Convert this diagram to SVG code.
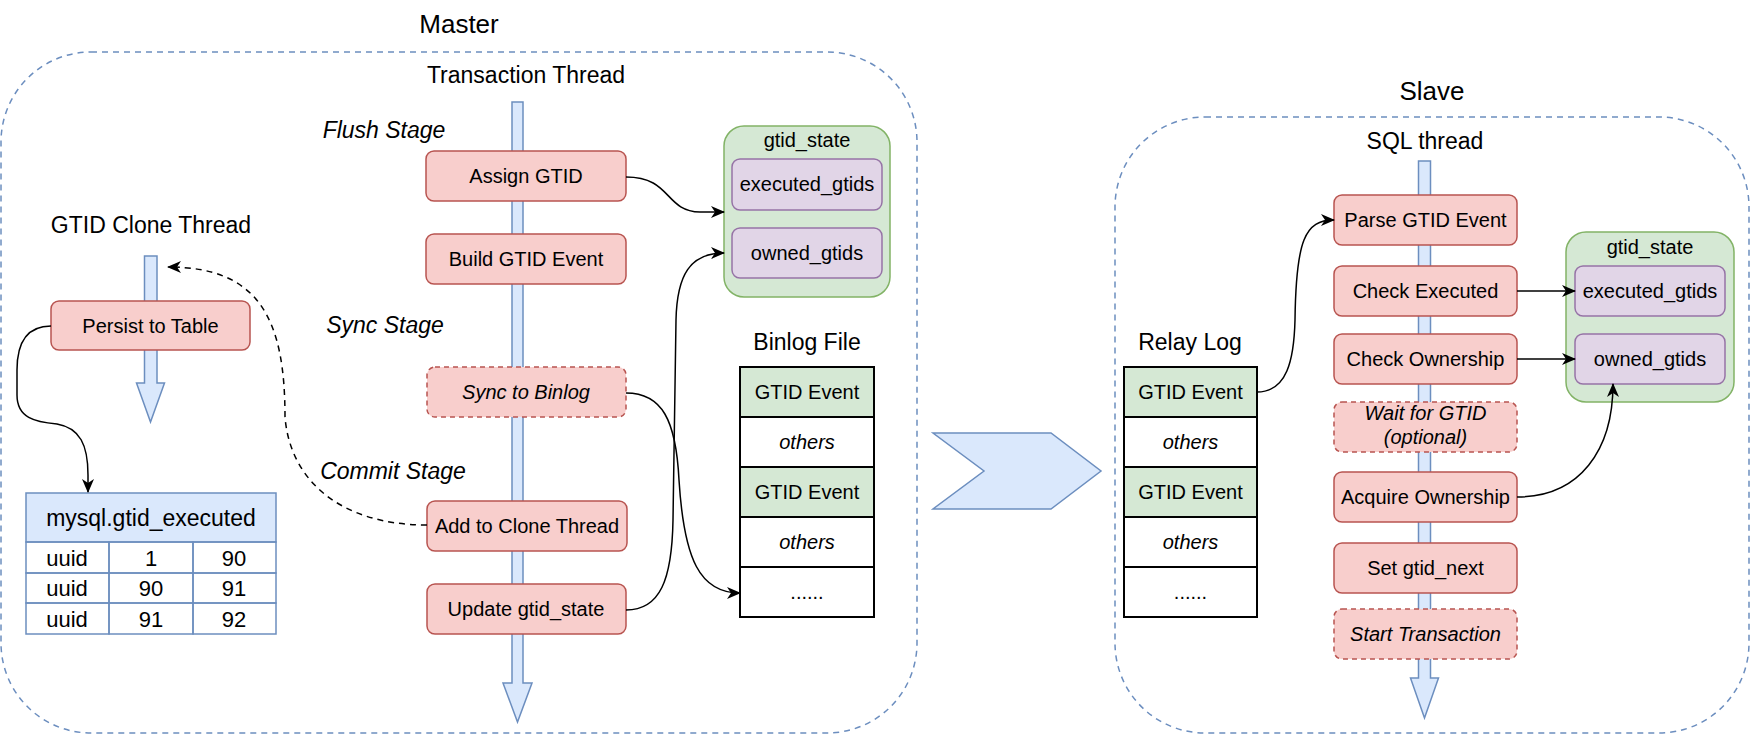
<svg xmlns="http://www.w3.org/2000/svg" width="1751" height="735" viewBox="0 0 1751 735">
<style>
text{font-family:"Liberation Sans",Arial,Helvetica,sans-serif;fill:#000}
.t20{font-size:20px;text-anchor:middle}
.t22{font-size:22px;text-anchor:middle}
.t23{font-size:23px;text-anchor:middle}
.t26{font-size:26px;text-anchor:middle}
.it{font-style:italic}
.cont{fill:none;stroke:#6c8ebf;stroke-width:1.5;stroke-dasharray:6 5}
.red{fill:#f8cecc;stroke:#b85450;stroke-width:1.5}
.redd{fill:#f8cecc;stroke:#b85450;stroke-width:1.5;stroke-dasharray:5 4}
.blue{fill:#dae8fc;stroke:#6c8ebf;stroke-width:1.5}
.green{fill:#d5e8d4;stroke:#82b366;stroke-width:1.5}
.purple{fill:#e1d5e7;stroke:#9673a6;stroke-width:1.5}
.cell{fill:#fff;stroke:#000;stroke-width:2}
.cellg{fill:#d5e8d4;stroke:#000;stroke-width:2}
.tcell{fill:none;stroke:#6c8ebf;stroke-width:1.5}
.edge{fill:none;stroke:#000;stroke-width:1.5;marker-end:url(#arr)}
.edged{fill:none;stroke:#000;stroke-width:1.5;stroke-dasharray:6 5;marker-end:url(#arr)}
</style>
<defs>
<marker id="arr" markerUnits="userSpaceOnUse" markerWidth="14" markerHeight="12" viewBox="0 0 14 12" refX="13" refY="6" orient="auto">
<path d="M0,0 L14,6 L0,12 L4,6 Z" fill="#000"/>
</marker>
</defs>

<g id="master">
<text class="t26" x="459" y="33">Master</text>
<rect class="cont" x="1" y="52" width="916" height="681" rx="90" ry="90"/>
</g>

<g id="slave">
<text class="t26" x="1432" y="100">Slave</text>
<rect class="cont" x="1115" y="117" width="634" height="616" rx="90" ry="90"/>
</g>

<g id="transaction-thread">
<text class="t23" x="526" y="83">Transaction Thread</text>
<polygon class="blue" points="512,102 523,102 523,683 532,683 517.5,722 503,683 512,683"/>
</g>

<g id="clone-thread">
<text class="t23" x="151" y="233">GTID Clone Thread</text>
<polygon class="blue" points="144.5,256 157,256 157,383 164.5,383 150.5,422 136.5,383 144.5,383"/>
</g>

<g id="sql-thread">
<text class="t23" x="1425" y="149">SQL thread</text>
<polygon class="blue" points="1418.5,161 1430.5,161 1430.5,678 1438.5,678 1424.5,718 1410.5,678 1418.5,678"/>
</g>

<g id="stages">
<text class="t23 it" x="384" y="138">Flush Stage</text>
<text class="t23 it" x="385" y="333">Sync Stage</text>
<text class="t23 it" x="393" y="479">Commit Stage</text>
</g>

<g id="assign-gtid">
<rect class="red" x="426" y="151" width="200" height="50" rx="8"/>
<text class="t20" x="526" y="183">Assign GTID</text>
</g>
<g id="build-gtid-event">
<rect class="red" x="426" y="234" width="200" height="50" rx="8"/>
<text class="t20" x="526" y="266">Build GTID Event</text>
</g>
<g id="sync-to-binlog">
<rect class="redd" x="427" y="367" width="199" height="50" rx="8"/>
<text class="t20 it" x="526" y="399">Sync to Binlog</text>
</g>
<g id="add-to-clone-thread">
<rect class="red" x="427" y="501" width="200" height="50" rx="8"/>
<text class="t20" x="527" y="533">Add to Clone Thread</text>
</g>
<g id="update-gtid-state">
<rect class="red" x="427" y="584" width="199" height="50" rx="8"/>
<text class="t20" x="526" y="616">Update gtid_state</text>
</g>

<g id="persist-to-table">
<rect class="red" x="51" y="301" width="199" height="49" rx="8"/>
<text class="t20" x="150.5" y="333">Persist to Table</text>
</g>

<g id="mysql-gtid-executed">
<rect class="blue" x="26" y="493" width="250" height="49"/>
<text class="t23" x="151" y="526">mysql.gtid_executed</text>
<rect class="tcell" x="26" y="542" width="83" height="31"/>
<rect class="tcell" x="109" y="542" width="84" height="31"/>
<rect class="tcell" x="193" y="542" width="83" height="31"/>
<rect class="tcell" x="26" y="573" width="83" height="30"/>
<rect class="tcell" x="109" y="573" width="84" height="30"/>
<rect class="tcell" x="193" y="573" width="83" height="30"/>
<rect class="tcell" x="26" y="603" width="83" height="31"/>
<rect class="tcell" x="109" y="603" width="84" height="31"/>
<rect class="tcell" x="193" y="603" width="83" height="31"/>
<text class="t22" x="67" y="566">uuid</text>
<text class="t22" x="151" y="566">1</text>
<text class="t22" x="234" y="566">90</text>
<text class="t22" x="67" y="596">uuid</text>
<text class="t22" x="151" y="596">90</text>
<text class="t22" x="234" y="596">91</text>
<text class="t22" x="67" y="627">uuid</text>
<text class="t22" x="151" y="627">91</text>
<text class="t22" x="234" y="627">92</text>
</g>

<g id="master-gtid-state">
<rect class="green" x="724" y="126" width="166" height="171" rx="20"/>
<text class="t20" x="807" y="147">gtid_state</text>
<rect class="purple" x="732" y="159" width="150" height="51" rx="8"/>
<text class="t20" x="807" y="191">executed_gtids</text>
<rect class="purple" x="732" y="228" width="150" height="50" rx="8"/>
<text class="t20" x="807" y="260">owned_gtids</text>
</g>

<g id="binlog-file">
<text class="t23" x="807" y="350">Binlog File</text>
<rect class="cellg" x="740" y="367" width="134" height="50"/>
<text class="t20" x="807" y="399">GTID Event</text>
<rect class="cell" x="740" y="417" width="134" height="50"/>
<text class="t20 it" x="807" y="449">others</text>
<rect class="cellg" x="740" y="467" width="134" height="50"/>
<text class="t20" x="807" y="499">GTID Event</text>
<rect class="cell" x="740" y="517" width="134" height="50"/>
<text class="t20 it" x="807" y="549">others</text>
<rect class="cell" x="740" y="567" width="134" height="50"/>
<text class="t20" x="807" y="599">......</text>
</g>

<g id="transfer-arrow">
<polygon class="blue" points="933,433 1051,433 1101,471 1051,509 933,509 984,471"/>
</g>

<g id="relay-log">
<text class="t23" x="1190" y="350">Relay Log</text>
<rect class="cellg" x="1124" y="367" width="133" height="50"/>
<text class="t20" x="1190.5" y="399">GTID Event</text>
<rect class="cell" x="1124" y="417" width="133" height="50"/>
<text class="t20 it" x="1190.5" y="449">others</text>
<rect class="cellg" x="1124" y="467" width="133" height="50"/>
<text class="t20" x="1190.5" y="499">GTID Event</text>
<rect class="cell" x="1124" y="517" width="133" height="50"/>
<text class="t20 it" x="1190.5" y="549">others</text>
<rect class="cell" x="1124" y="567" width="133" height="50"/>
<text class="t20" x="1190.5" y="599">......</text>
</g>

<g id="parse-gtid-event">
<rect class="red" x="1334" y="195" width="183" height="50" rx="8"/>
<text class="t20" x="1425.5" y="227">Parse GTID Event</text>
</g>
<g id="check-executed">
<rect class="red" x="1334" y="266" width="183" height="50" rx="8"/>
<text class="t20" x="1425.5" y="298">Check Executed</text>
</g>
<g id="check-ownership">
<rect class="red" x="1334" y="334" width="183" height="50" rx="8"/>
<text class="t20" x="1425.5" y="366">Check Ownership</text>
</g>
<g id="wait-for-gtid">
<rect class="redd" x="1334" y="402" width="183" height="50" rx="8"/>
<text class="t20 it" x="1425.5" y="420">Wait for GTID</text>
<text class="t20 it" x="1425.5" y="444">(optional)</text>
</g>
<g id="acquire-ownership">
<rect class="red" x="1334" y="472" width="183" height="50" rx="8"/>
<text class="t20" x="1425.5" y="504">Acquire Ownership</text>
</g>
<g id="set-gtid-next">
<rect class="red" x="1334" y="543" width="183" height="50" rx="8"/>
<text class="t20" x="1425.5" y="575">Set gtid_next</text>
</g>
<g id="start-transaction">
<rect class="redd" x="1334" y="609" width="183" height="50" rx="8"/>
<text class="t20 it" x="1425.5" y="641">Start Transaction</text>
</g>

<g id="slave-gtid-state">
<rect class="green" x="1566" y="232" width="168" height="170" rx="20"/>
<text class="t20" x="1650" y="254">gtid_state</text>
<rect class="purple" x="1575" y="266" width="150" height="50" rx="8"/>
<text class="t20" x="1650" y="298">executed_gtids</text>
<rect class="purple" x="1575" y="334" width="150" height="50" rx="8"/>
<text class="t20" x="1650" y="366">owned_gtids</text>
</g>

<g id="connectors">
<path class="edge" d="M626,177 C672,177 664,211 700,212 L724,212"/>
<path class="edge" d="M626,610 C660,610 672,580 673,520 L676,320 C677,275 690,253 724,253"/>
<path class="edge" d="M626,393 C662,393 676,420 679,480 C684,560 700,593 740,593"/>
<path class="edge" d="M51,326 C25,326 17,345 17,370 L17,395 C17,418 35,422 57,424 C80,428 88,445 88,475 L88,492"/>
<path class="edged" d="M427,525 C340,525 290,480 285,417 C285,320 260,267 168,267"/>
<path class="edge" d="M1257,392 C1287,392 1294,360 1295,320 C1296,240 1305,220 1334,220"/>
<path class="edge" d="M1517,291 L1575,291"/>
<path class="edge" d="M1517,359 L1575,359"/>
<path class="edge" d="M1517,497 C1580,497 1613,450 1613,384"/>
</g>
</svg>
